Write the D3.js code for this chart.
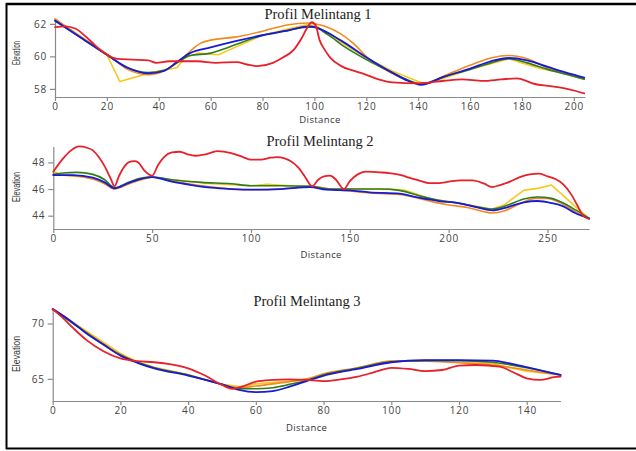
<!DOCTYPE html>
<html><head><meta charset="utf-8">
<script src="https://cdn.jsdelivr.net/npm/d3@7/dist/d3.min.js"></script>
<style>
html,body{margin:0;padding:0;background:#fff;}
svg{display:block;}
</style></head>
<body>
<svg id="chart" width="636" height="451"></svg>
<script>
// ---------- DATA ----------
const titles = ["Profil Melintang 1", "Profil Melintang 2", "Profil Melintang 3"];
const xTicks1 = [0,20,40,60,80,100,120,140,160,180,200];
const yTicks1 = [58,60,62];
const xTicks2 = [0,50,100,150,200,250];
const yTicks2 = [44,46,48];
const xTicks3 = [0,20,40,60,80,100,120,140];
const yTicks3 = [65,70];
const seriesNames = ["yellow","orange","green","blue","red"];

// Profil 1 : [distance, elevation]
const p1Yellow = [[0,62.3],[10,61.2],[20,60.1],[25,58.45],[37,59.0],[47,59.3],[50,59.9],[55,60.2],[63,60.1],[70,60.6],[80,61.3],[90,61.7],[97,61.95],[101,61.85],[110,60.9],[120,59.9],[130,59.1],[140,58.45],[143,58.3],[160,59.2],[175,59.85],[180,59.6],[187,59.25],[195,59.0],[204,58.6]];
const p1Orange = [[0,62.3],[10,61.2],[20,60.15],[28,59.2],[36,58.87],[42,59.1],[47,59.6],[52,60.3],[56,60.8],[60,61.0],[70,61.2],[80,61.55],[90,61.95],[97,62.05],[102,61.95],[110,61.4],[115,60.8],[121,59.84],[130,58.95],[138,58.4],[142,58.3],[150,58.8],[160,59.45],[168,59.9],[175,60.05],[182,59.85],[190,59.3],[197,58.95],[204,58.65]];
const p1Green = [[0,62.2],[10,61.15],[20,60.1],[28,59.3],[36,59.0],[42,59.15],[47,59.6],[52,60.05],[60,60.2],[65,60.45],[70,60.75],[80,61.3],[90,61.6],[97,61.8],[100,61.8],[105,61.35],[112,60.55],[120,59.8],[130,59.0],[136,58.55],[141,58.3],[150,58.75],[160,59.2],[168,59.6],[175,59.85],[182,59.6],[190,59.2],[197,58.9],[204,58.6]];
const p1Blue = [[0,62.2],[10,61.15],[20,60.1],[28,59.3],[36,58.95],[42,59.1],[47,59.65],[52,60.2],[60,60.55],[70,60.95],[80,61.3],[90,61.6],[98,61.85],[101,61.75],[110,61.0],[120,59.95],[130,59.0],[136,58.5],[141,58.25],[150,58.75],[160,59.25],[168,59.7],[175,59.9],[182,59.75],[190,59.35],[197,59.0],[204,58.7]];
const p1Red = [[0,61.8],[4,61.85],[8,61.7],[12,61.2],[16,60.6],[20,60.1],[24,59.85],[30,59.8],[36,59.75],[39,59.6],[44,59.7],[48,59.7],[55,59.7],[62,59.6],[70,59.65],[74,59.5],[78,59.4],[84,59.6],[88,59.94],[92,60.4],[95,61.1],[97,61.7],[99,62.1],[100.5,61.9],[102,61.0],[104,60.4],[106,59.94],[110,59.43],[115,59.12],[119,58.92],[125,58.57],[130,58.4],[140,58.34],[150,58.5],[157,58.58],[165,58.49],[172,58.58],[178,58.65],[185,58.3],[190,58.18],[196,58.05],[200,57.9],[204,57.72]];

// Profil 2
const p2Yellow = [[0,47.35],[4,47.05],[15,46.9],[22,46.7],[31,46.0],[40,46.5],[50,46.9],[60,46.7],[80,46.4],[100,46.25],[108,46.35],[120,46.25],[130,46.2],[140,46.0],[150,46.0],[170,46.0],[178,45.9],[190,45.3],[200,45.05],[210,44.8],[222,44.5],[228,44.8],[238,45.9],[245,46.05],[252,46.3],[258,45.5],[264,44.7],[271,43.8]];
const p2Orange = [[0,47.05],[10,47.0],[20,46.75],[26,46.4],[31,46.0],[36,46.25],[42,46.6],[50,46.9],[60,46.6],[75,46.25],[90,46.0],[100,45.95],[115,46.0],[130,46.2],[140,46.0],[150,45.85],[160,45.7],[175,45.6],[185,45.3],[193,45.0],[200,44.8],[210,44.6],[218,44.3],[222,44.2],[228,44.35],[236,44.9],[244,45.3],[250,45.3],[256,45.0],[262,44.5],[267,44.05],[271,43.8]];
const p2Green = [[0,47.1],[5,47.2],[12,47.25],[20,47.1],[26,46.7],[31,46.1],[38,46.5],[44,46.8],[50,46.9],[60,46.7],[75,46.5],[90,46.4],[100,46.25],[115,46.25],[130,46.2],[140,46.0],[150,46.0],[165,46.0],[175,45.9],[185,45.5],[195,45.15],[205,44.95],[215,44.65],[222,44.5],[230,44.8],[238,45.25],[245,45.4],[252,45.3],[258,44.95],[264,44.45],[271,43.8]];
const p2Blue = [[0,47.05],[10,47.05],[20,46.85],[26,46.5],[31,46.05],[38,46.45],[44,46.75],[50,46.9],[60,46.55],[70,46.3],[80,46.1],[90,46.0],[100,45.95],[115,46.0],[130,46.15],[138,45.95],[150,45.9],[160,45.75],[175,45.65],[185,45.35],[195,45.1],[205,44.95],[215,44.6],[222,44.4],[230,44.65],[238,45.0],[245,45.1],[252,44.95],[258,44.7],[264,44.2],[271,43.8]];
const p2Red = [[0,47.3],[5,48.3],[9,48.9],[13,49.2],[17,49.1],[20,48.9],[23,48.4],[26,47.7],[29,46.8],[31,46.2],[33,46.9],[36,47.7],[38,48.0],[41,48.1],[43,48.0],[46,47.4],[50,47.0],[53,47.8],[56,48.4],[60,48.75],[64,48.8],[68,48.6],[72,48.5],[77,48.6],[83,48.85],[90,48.7],[96,48.4],[100,48.2],[105,48.2],[110,48.35],[113,48.4],[117,48.3],[120,48.1],[124,47.6],[127,47.0],[131,46.2],[134,46.7],[137,46.95],[140,47.0],[143,46.7],[147,46.0],[150,46.6],[154,47.1],[158,47.3],[165,47.25],[170,47.2],[176,47.05],[180,46.85],[186,46.6],[190,46.45],[195,46.45],[200,46.55],[206,46.65],[212,46.65],[218,46.4],[222,46.15],[226,46.3],[231,46.55],[236,46.9],[241,47.1],[246,47.15],[250,46.95],[254,46.75],[258,46.35],[262,45.6],[265,44.8],[268,44.0],[271,43.75]];

// Profil 3
const p3Yellow = [[0,71.3],[10,69.3],[20,67.3],[25,66.55],[30,66.05],[40,65.4],[50,64.5],[55,64.3],[60,64.55],[70,64.8],[78,65.1],[90,66.0],[100,66.6],[110,66.65],[120,66.5],[130,66.4],[135,66.0],[140,65.7],[150,65.35]];
const p3Orange = [[0,71.3],[10,69.2],[20,67.2],[25,66.5],[30,66.0],[40,65.35],[50,64.5],[55,64.2],[60,64.35],[65,64.55],[70,64.75],[75,65.0],[80,65.45],[90,66.0],[100,66.6],[110,66.6],[120,66.45],[130,66.25],[135,66.05],[140,65.8],[150,65.35]];
const p3Green = [[0,71.3],[10,69.15],[20,67.15],[25,66.5],[30,66.0],[40,65.35],[50,64.5],[55,64.1],[60,64.1],[65,64.2],[70,64.5],[75,64.85],[80,65.35],[90,65.95],[100,66.55],[110,66.65],[120,66.65],[130,66.5],[140,66.0],[150,65.35]];
const p3Blue = [[0,71.3],[5,70.3],[10,69.1],[15,68.1],[20,67.1],[25,66.45],[30,65.95],[40,65.3],[50,64.5],[55,64.0],[60,63.8],[65,63.9],[70,64.3],[75,64.8],[80,65.3],[90,65.9],[100,66.5],[110,66.7],[120,66.7],[130,66.65],[135,66.4],[140,66.05],[145,65.7],[150,65.35]];
const p3Red = [[0,71.3],[3,70.5],[6,69.6],[10,68.5],[15,67.5],[20,66.85],[25,66.6],[30,66.5],[35,66.3],[40,65.95],[45,65.3],[50,64.45],[53,64.1],[56,64.3],[60,64.75],[65,64.9],[70,64.95],[75,64.9],[80,64.8],[85,64.95],[90,65.2],[95,65.6],[100,66.0],[105,65.9],[110,65.7],[115,65.8],[120,66.2],[125,66.25],[132,66.1],[136,65.6],[140,65.05],[144,64.9],[148,65.15],[150,65.2]];

// ---------- STYLE / LAYOUT ----------
const colors = {yellow:"#f7c81e", orange:"#f28a1e", green:"#2e7d1e", blue:"#1a1ad6", red:"#e8202a"};
const widths = {yellow:1.6, orange:1.6, green:1.6, blue:1.8, red:1.8};

const panels = [
  {title:titles[0], data:{yellow:p1Yellow,orange:p1Orange,green:p1Green,blue:p1Blue,red:p1Red},
   xDom:[0,204.3], yDom:[57.5,62.3], xr:[55,585], yr:[97,19], xt:xTicks1, yt:yTicks1,
   titleX:318, titleY:19, distY:123, elevX:20, elevY:53, elevLen:24},
  {title:titles[1], data:{yellow:p2Yellow,orange:p2Orange,green:p2Green,blue:p2Blue,red:p2Red},
   xDom:[0,271], yDom:[43,49.2], xr:[53.3,589], yr:[229,146.4], xt:xTicks2, yt:yTicks2,
   titleX:320, titleY:146, distY:258, elevX:20, elevY:187, elevLen:30},
  {title:titles[2], data:{yellow:p3Yellow,orange:p3Orange,green:p3Green,blue:p3Blue,red:p3Red},
   xDom:[0,150], yDom:[63,71.4], xr:[52.7,560.6], yr:[401,308], xt:xTicks3, yt:yTicks3,
   titleX:307, titleY:306, distY:431, elevX:20, elevY:354, elevLen:36}
];

const svg = d3.select("#chart");

// frame
svg.append("line").attr("x1",6).attr("x2",636).attr("y1",4).attr("y2",4).attr("stroke","#000").attr("stroke-width",2.5);
svg.append("line").attr("x1",6.5).attr("x2",6.5).attr("y1",3).attr("y2",449).attr("stroke","#000").attr("stroke-width",2);
svg.append("line").attr("x1",6).attr("x2",636).attr("y1",448.5).attr("y2",448.5).attr("stroke","#000").attr("stroke-width",2);

panels.forEach(p => {
  const x = d3.scaleLinear().domain(p.xDom).range(p.xr);
  const y = d3.scaleLinear().domain(p.yDom).range(p.yr);
  const g = svg.append("g");

  const xAxis = d3.axisBottom(x).tickValues(p.xt).tickSizeInner(4).tickSizeOuter(0).tickPadding(2).tickFormat(d3.format("d"));
  const yAxis = d3.axisLeft(y).tickValues(p.yt).tickSizeInner(5).tickSizeOuter(0).tickPadding(3).tickFormat(d3.format("d"));

  const gx = g.append("g").attr("transform",`translate(0,${p.yr[0]})`).call(xAxis);
  const gy = g.append("g").attr("transform",`translate(${p.xr[0]},0)`).call(yAxis);
  [gx,gy].forEach(a=>{
    a.selectAll("path,line").attr("stroke","#8a8a8a").attr("stroke-width",1.2);
    a.selectAll("text").attr("fill","#444").style("font-family","'Open Sans', sans-serif").style("font-size","10px").style("letter-spacing","0.8px");
  });

  seriesNames.forEach(name => {
    const line = d3.line().x(d=>x(d[0])).y(d=>y(d[1]))
      .curve(name==="yellow" ? d3.curveLinear : d3.curveMonotoneX);
    g.append("path").datum(p.data[name]).attr("d",line)
      .attr("fill","none").attr("stroke",colors[name]).attr("stroke-width",widths[name])
      .attr("stroke-linejoin","round").attr("stroke-linecap","round");
  });

  g.append("text").attr("x",p.titleX).attr("y",p.titleY).attr("text-anchor","middle")
    .style("font-family","'Liberation Serif', serif").style("font-size","14.5px").attr("fill","#222").text(p.title);
  g.append("text").attr("x",(p.xr[0]+p.xr[1])/2+0).attr("y",p.distY).attr("text-anchor","middle")
    .style("font-family","'Open Sans', sans-serif").style("font-size","9.5px").style("letter-spacing","0.4px").attr("fill","#333").text("Distance");
  g.append("text").attr("transform",`translate(${p.elevX},${p.elevY}) rotate(-90)`).attr("text-anchor","middle")
    .attr("textLength",p.elevLen).attr("lengthAdjust","spacingAndGlyphs")
    .style("font-family","'Liberation Sans Narrow','Liberation Sans', sans-serif").style("font-size","10px").attr("fill","#333").text("Elevation");
});
</script>
</body></html>
